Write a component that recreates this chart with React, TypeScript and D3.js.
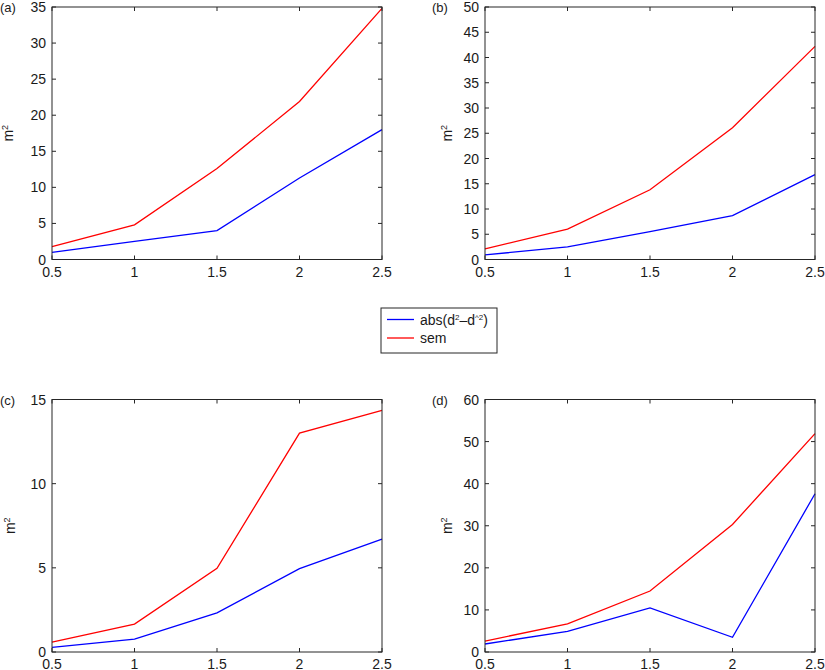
import React from "react";
import * as d3 from "d3";

const xValues = [0.5, 1, 1.5, 2, 2.5];
const xTicks = [0.5, 1, 1.5, 2, 2.5];

const absA = [1.0, 2.5, 4.0, 11.3, 18.0];
const semA = [1.8, 4.8, 12.6, 21.9, 34.8];
const absB = [0.9, 2.5, 5.5, 8.7, 16.8];
const semB = [2.1, 6.0, 13.8, 26.1, 42.2];
const absC = [0.28, 0.77, 2.32, 4.95, 6.7];
const semC = [0.59, 1.66, 4.97, 13.0, 14.36];
const absD = [1.9, 4.9, 10.5, 3.5, 37.6];
const semD = [2.6, 6.7, 14.5, 30.3, 51.9];

const yTicksA = [0, 5, 10, 15, 20, 25, 30, 35];
const yTicksB = [0, 5, 10, 15, 20, 25, 30, 35, 40, 45, 50];
const yTicksC = [0, 5, 10, 15];
const yTicksD = [0, 10, 20, 30, 40, 50, 60];

const panelLabels = ["(a)", "(b)", "(c)", "(d)"];
const seriesNames = ["abs", "sem"];
const seriesColors = ["#0000ff", "#ff0000"];

const FONT = "'Liberation Sans', Arial, Helvetica, sans-serif";
const AXIS = "#262626";

type PanelProps = {
  left: number;
  top: number;
  width: number;
  height: number;
  yTicks: number[];
  abs: number[];
  sem: number[];
  label: string;
  labelX: number;
  ylabelX: number;
};

function Panel({ left, top, width, height, yTicks, abs, sem, label, labelX, ylabelX }: PanelProps) {
  const x = d3.scaleLinear().domain([0.5, 2.5]).range([left, left + width]);
  const y = d3
    .scaleLinear()
    .domain([0, yTicks[yTicks.length - 1]])
    .range([top + height, top]);
  const line = d3
    .line<number>()
    .x((_, i) => x(xValues[i]))
    .y((d) => y(d));
  const tl = 4;
  const bottom = top + height;
  const right = left + width;
  return (
    <g>
      {[abs, sem].map((s, i) => (
        <path key={seriesNames[i]} d={line(s) || ""} fill="none" stroke={seriesColors[i]} strokeWidth={1.3} />
      ))}
      <rect x={left} y={top} width={width} height={height} fill="none" stroke={AXIS} strokeWidth={1} />
      {xTicks.map((t) => (
        <g key={"x" + t}>
          <line x1={x(t)} x2={x(t)} y1={bottom} y2={bottom - tl} stroke={AXIS} />
          <line x1={x(t)} x2={x(t)} y1={top} y2={top + tl} stroke={AXIS} />
          <text x={x(t)} y={bottom + 17} textAnchor="middle" fontSize={14} fontFamily={FONT} fill="#1a1a1a">
            {String(t)}
          </text>
        </g>
      ))}
      {yTicks.map((t) => (
        <g key={"y" + t}>
          <line x1={left} x2={left + tl} y1={y(t)} y2={y(t)} stroke={AXIS} />
          <line x1={right} x2={right - tl} y1={y(t)} y2={y(t)} stroke={AXIS} />
          <text x={left - 6} y={y(t)} dy="0.36em" textAnchor="end" fontSize={14} fontFamily={FONT} fill="#1a1a1a">
            {String(t)}
          </text>
        </g>
      ))}
      <text
        transform={`translate(${ylabelX},${top + height / 2}) rotate(-90)`}
        textAnchor="middle"
        fontSize={14}
        fontFamily={FONT}
        fill="#1a1a1a"
      >
        m<tspan fontSize={9} dy={-5}>2</tspan>
      </text>
      <text x={labelX} y={top + 5} fontSize={13} fontFamily={FONT} fill="#1a1a1a">
        {label}
      </text>
    </g>
  );
}

export default function App() {
  const W = 825;
  const H = 670;
  return (
    <svg
      width={W}
      height={H}
      style={{ position: "absolute", left: 0, top: 0, background: "#fff" }}
    >
      <rect x={0} y={0} width={W} height={H} fill="#fff" />
      <Panel left={52} top={7} width={330} height={252.5} yTicks={yTicksA} abs={absA} sem={semA} label={panelLabels[0]} labelX={0} ylabelX={13} />
      <Panel left={485} top={7} width={330} height={252.5} yTicks={yTicksB} abs={absB} sem={semB} label={panelLabels[1]} labelX={432} ylabelX={452} />
      <Panel left={52} top={399.5} width={330} height={252.5} yTicks={yTicksC} abs={absC} sem={semC} label={panelLabels[2]} labelX={0} ylabelX={15} />
      <Panel left={485} top={399.5} width={330} height={252.5} yTicks={yTicksD} abs={absD} sem={semD} label={panelLabels[3]} labelX={432} ylabelX={452} />
      <g>
        <rect x={381} y={308} width={116} height={45} fill="#fff" stroke={AXIS} strokeWidth={1} />
        <line x1={387} x2={414} y1={319.5} y2={319.5} stroke={seriesColors[0]} strokeWidth={1.3} />
        <line x1={387} x2={414} y1={338} y2={338} stroke={seriesColors[1]} strokeWidth={1.3} />
        <text x={420} y={324.5} fontSize={14} fontFamily={FONT} fill="#1a1a1a">
          abs(d<tspan fontSize={8} dy={-5}>2</tspan>
          <tspan dy={5}>–d</tspan>
          <tspan fontSize={8} dy={-5}>^2</tspan>
          <tspan dy={5}>)</tspan>
        </text>
        <text x={420} y={343} fontSize={14} fontFamily={FONT} fill="#1a1a1a">
          sem
        </text>
      </g>
    </svg>
  );
}
